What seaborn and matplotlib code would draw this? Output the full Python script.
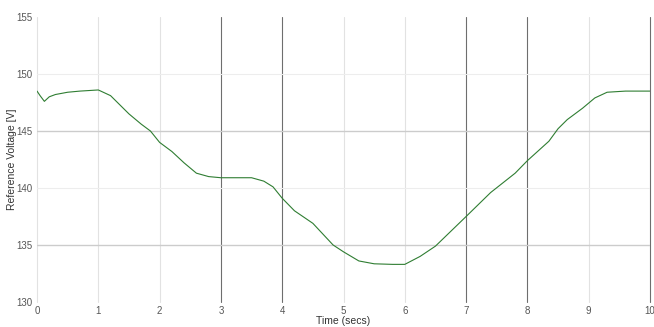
import matplotlib
matplotlib.use("Agg")
import matplotlib.pyplot as plt
import seaborn as sns
import pandas as pd

# Reference voltage trace
time_s = [0, 0.05, 0.12, 0.2, 0.3, 0.5, 0.7, 1.0, 1.2, 1.5, 1.7, 1.85, 2.0,
          2.2, 2.4, 2.6, 2.8, 3.0, 3.5, 3.7, 3.85, 4.0, 4.2, 4.5, 4.83, 5.0,
          5.25, 5.5, 5.8, 6.0, 6.25, 6.5, 7.0, 7.4, 7.8, 8.0, 8.35, 8.5,
          8.65, 8.9, 9.1, 9.3, 9.6, 10.0]
voltage = [148.5, 148.1, 147.6, 148.0, 148.2, 148.4, 148.5, 148.6, 148.1,
           146.5, 145.6, 145.0, 144.0, 143.2, 142.2, 141.3, 141.0, 140.9,
           140.9, 140.6, 140.1, 139.1, 138.0, 136.9, 135.0, 134.4, 133.6,
           133.35, 133.3, 133.3, 134.0, 134.9, 137.5, 139.6, 141.3, 142.4,
           144.1, 145.2, 146.0, 147.0, 147.9, 148.4, 148.5, 148.5]

x_ticks = list(range(0, 11))
y_ticks = [130, 135, 140, 145, 150, 155]

df = pd.DataFrame({"t": time_s, "v": voltage})

sns.set_theme(style="white")
plt.rcParams["font.family"] = ["Liberation Sans", "DejaVu Sans"]

fig = plt.figure(figsize=(6.54, 3.27), dpi=100)
ax = fig.add_axes([0.0566, 0.0765, 0.9373, 0.8715])

sns.lineplot(data=df, x="t", y="v", ax=ax, color="#2f7d32", linewidth=0.8)

ax.set_xlim(0, 10)
ax.set_ylim(130, 155)
ax.set_xticks(x_ticks)
ax.set_yticks(y_ticks)
ax.tick_params(axis="both", labelsize=7, colors="#555555", length=0, pad=3)

ax.grid(True)
dark_x = {3, 4, 7, 8, 10}
for val, gl in zip(x_ticks, ax.get_xgridlines()):
    gl.set_clip_on(False)
    if val in dark_x:
        gl.set_color("#6e6e6e")
        gl.set_linewidth(0.8)
    else:
        gl.set_color("#e2e2e2")
        gl.set_linewidth(0.8)
for val, gl in zip(y_ticks, ax.get_ygridlines()):
    if val in (135, 145):
        gl.set_color("#cccccc")
        gl.set_linewidth(1.0)
    elif val in (140, 150):
        gl.set_color("#ededed")
        gl.set_linewidth(0.8)
    else:
        gl.set_visible(False)

for s in ax.spines.values():
    s.set_visible(False)

ax.set_xlabel("Time (secs)", fontsize=7.5, color="#333333")
ax.set_ylabel("Reference Voltage [V]", fontsize=7.5, color="#333333")
ax.xaxis.set_label_coords(0.5, -0.05)
ax.yaxis.set_label_coords(-0.032, 0.5)

plt.savefig("out.png", dpi=100)
plt.close()
